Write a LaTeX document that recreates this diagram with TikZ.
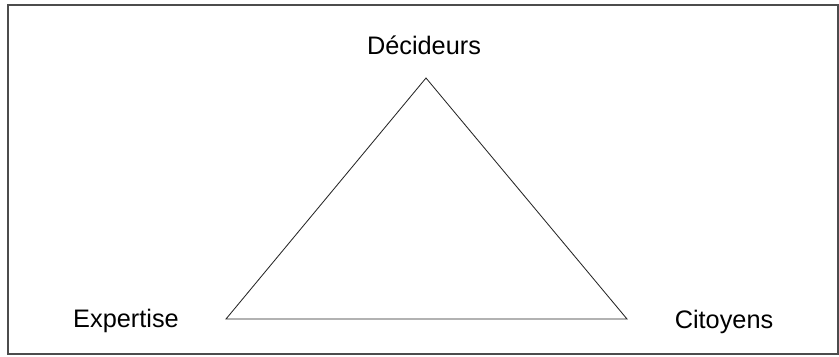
\documentclass[tikz,border=0pt]{standalone}
\usepackage{fontspec}
\setmainfont{Liberation Sans}
\usetikzlibrary{positioning}

\begin{document}
\begin{tikzpicture}[
  x=0.025cm, y=-0.025cm,
  every node/.style={font=\fontsize{18}{21}\selectfont},
  pole/.style={inner sep=0pt},
]

% Page frame
\useasboundingbox (0, 0) rectangle (839, 356);
\draw[line width=1.2pt, black!70] (8, 5) rectangle (838, 354);

% Corners of the triangle
\coordinate (dec) at (426, 78);
\coordinate (exp) at (226, 319);
\coordinate (cit) at (627, 319);

% Triangle
\draw[line width=0.6pt, black!85] (dec) -- (exp) -- (cit) -- cycle;

% Labels
\node[pole] (ldec) at (424, 45) {Décideurs};
\node[pole] (lexp) at (126, 321) {Expertise};
\node[pole] (lcit) at (724, 322) {Citoyens};

\end{tikzpicture}
\end{document}
